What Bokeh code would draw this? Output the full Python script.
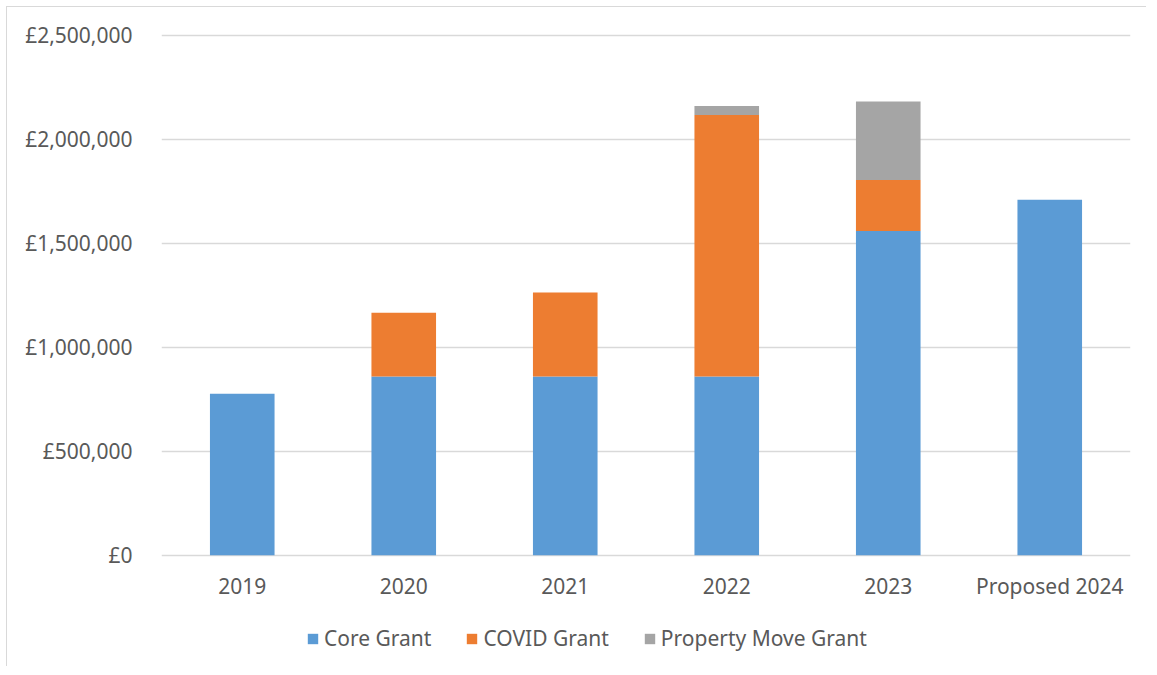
from bokeh.plotting import figure
from bokeh.models import ColumnDataSource, FixedTicker, Legend, FactorRange, Range1d
from bokeh.core.properties import value
from bokeh.embed import file_html
from bokeh.resources import INLINE

# ---- data ----
years = ["2019", "2020", "2021", "2022", "2023", "Proposed 2024"]
core_grant = [776000, 859000, 859000, 859000, 1559000, 1709000]
covid_grant = [0, 307000, 404000, 1258000, 245000, 0]
property_move_grant = [0, 0, 0, 43000, 378000, 0]
series_names = ["Core Grant", "COVID Grant", "Property Move Grant"]
series_colors = ["#5B9BD5", "#ED7D31", "#A5A5A5"]
y_ticks = [0, 500000, 1000000, 1500000, 2000000, 2500000]
y_tick_labels = ["£0", "£500,000", "£1,000,000", "£1,500,000", "£2,000,000", "£2,500,000"]

FONT = "Noto Sans"
TEXT = "#595959"
GRID = "#D9D9D9"

# ---- layout (pixels) ----
OFF = 7                      # host margin + border
FIG_W, FIG_H = 1140, 660
FRAME_L, FRAME_R = 161, 1130  # page px
FRAME_T = 30
ZERO_Y, TOP_Y = 554.7, 34.9   # page px of 0 and 2.5M
u = 2500000 / (ZERO_Y - TOP_Y)  # data units per px
frame_bottom_page = OFF + FIG_H
y_end = 2500000 + (TOP_Y - FRAME_T) * u
y_start = -(frame_bottom_page - ZERO_Y) * u

src = ColumnDataSource(dict(x=years, core=core_grant, covid=covid_grant, prop=property_move_grant,
                            base=[0] * len(years)))

p = figure(
    x_range=FactorRange(*years, range_padding=0.0),
    y_range=Range1d(y_start, y_end),
    width=FIG_W, height=FIG_H,
    output_backend="svg", toolbar_location=None,
    min_border_left=FRAME_L - OFF, min_border_right=OFF + FIG_W - FRAME_R,
    min_border_top=FRAME_T - OFF, min_border_bottom=0,
)
p.styles = {"margin": "6px 0 0 6px",
            "border-left": "1px solid #D9D9D9", "border-top": "1px solid #D9D9D9"}

renderers = p.vbar_stack(
    ["core", "covid", "prop"], x="x", width=0.4, source=src,
    color=series_colors, line_color=None,
)

# category labels under the zero line
p.text(x="x", y="base", text="x", source=src, y_offset=30.5,
       text_align="center", text_baseline="middle",
       text_font=value(FONT), text_font_size=value("21px"), text_color=TEXT)

p.outline_line_color = None
p.xgrid.grid_line_color = None
p.ygrid.grid_line_color = GRID
p.ygrid.grid_line_width = 1.3
p.xaxis.visible = False

p.yaxis.ticker = FixedTicker(ticks=y_ticks)
p.yaxis.major_label_overrides = {t: l for t, l in zip(y_ticks, y_tick_labels)}
p.yaxis.axis_line_color = None
p.yaxis.major_tick_line_color = None
p.yaxis.minor_tick_line_color = None
p.yaxis.major_tick_out = 0
p.yaxis.major_tick_in = 0
p.yaxis.major_label_standoff = 29
p.yaxis.major_label_text_font = FONT
p.yaxis.major_label_text_font_size = "21px"
p.yaxis.major_label_text_color = TEXT
p.ygrid.ticker = FixedTicker(ticks=y_ticks)

legend = Legend(
    items=[(n, [r]) for n, r in zip(series_names, renderers)],
    orientation="horizontal", location=(306 - FRAME_L, frame_bottom_page - 652),
    glyph_width=13, glyph_height=13, label_standoff=5, spacing=34,
    label_text_font=FONT, label_text_font_size="21px", label_text_color=TEXT,
    border_line_color=None, background_fill_alpha=0,
    margin=0, padding=0,
)
p.add_layout(legend, "center")

open("out.html", "w").write(file_html(p, INLINE))
